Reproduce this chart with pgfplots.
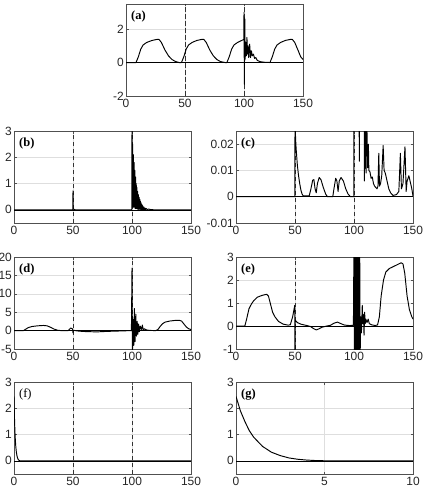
\documentclass[border=0pt]{standalone}
\usepackage{fontspec}
\setmainfont{Liberation Sans}
\newfontfamily\serif{Liberation Serif}
\usepackage{pgfplots}
\pgfplotsset{compat=1.18}
\definecolor{gridc}{RGB}{222,222,222}
\definecolor{axc}{RGB}{80,80,80}
\pgfplotsset{mystyle/.style={
  scale only axis, width=177bp, height=92bp, anchor=north west,
  axis line style={axc, line width=0.6bp},
  grid=major, major grid style={gridc, line width=0.5bp},
  tick style={axc, line width=0.5bp}, major tick length=2.5bp,
  tick align=inside,
  xmin=0, xmax=150, xtick={0,50,100,150},
  ticklabel style={font=\fontsize{12}{14}\selectfont, text=black!85},
  yticklabel style={inner xsep=2pt},
  /pgf/number format/assume math mode=true,
  cycle list={{black}},
  no markers,
  every axis plot/.append style={black!90, line width=0.95bp, line join=round, mark=none},
  clip=true,
}}
\newcommand{\dashes}[2]{%
  \addplot[black!80, line width=0.6bp, dash pattern=on 4.5bp off 2.5bp] coordinates {(50,#1) (50,#2)};
  \addplot[black!80, line width=0.6bp, dash pattern=on 4.5bp off 2.5bp] coordinates {(100,#1) (100,#2)};
}
\newcommand{\zeroline}[1]{\addplot[black, line width=0.6bp] coordinates {(0,0) (#1,0)};}
\newcommand{\plabel}[1]{\node[anchor=north west, inner sep=0pt, font=\serif\bfseries\fontsize{12.5}{14}\selectfont] at (rel axis cs:0,1) [xshift=5bp, yshift=-7bp] {#1};}
\newcommand{\plabelr}[1]{\node[anchor=north west, inner sep=0pt, font=\serif\fontsize{12.5}{14}\selectfont] at (rel axis cs:0,1) [xshift=5bp, yshift=-7bp] {#1};}
\begin{document}
\begin{tikzpicture}
\path[use as bounding box] (0,0) rectangle (425bp,-498bp);
% (a)
\begin{axis}[mystyle, at={(126bp,-4bp)}, ymin=-2, ymax=3.5, ytick={-2,0,2}]
\dashes{-2}{3.5}
\zeroline{150}
\addplot coordinates {(0,0) (8.5,0) (10.5,0.35) (12.5,0.8) (14.5,1.05) (17.5,1.2) (22,1.32) (26,1.38) (28,1.38) (30,1.2) (33,0.75) (36,0.4) (39,0.18) (42,0.06) (45,0)
(47,0) (49,0.35) (51,0.8) (53,1.05) (56,1.2) (60,1.32) (64,1.38) (66,1.38) (68,1.2) (71,0.75) (74,0.4) (77,0.18) (80,0.06) (84,0)
(85.5,0) (87.5,0.35) (89.5,0.8) (91.5,1.05) (94.5,1.2) (98,1.32) (99.8,1.38) (100,3.0) (100.3,-1.3) (100.7,2.6) (101,0.2) (101.5,1.2) (102,0.4) (102.5,1.5) (103,0.5) (103.5,1.0) (104,0.3) (104.8,1.1) (105.5,0.3) (106.3,0.7) (107,0.4) (108,0.5) (109,0.25) (110,0.3) (111,0.15) (112,0.1) (114,0.05) (117,0.02) (122,0)
(124,0.35) (126,0.8) (128,1.05) (131,1.2) (135,1.32) (139,1.38) (141,1.38) (143,1.2) (146,0.7) (148,0.35) (150,0.18)};
\plabel{(a)}
\end{axis}
% (b)
\begin{axis}[mystyle, at={(14bp,-131bp)}, ymin=-0.5, ymax=3, ytick={0,1,2,3}]
\dashes{-0.5}{3}
\zeroline{150}
\addplot coordinates {(0,0) (49.8,0) (50,0.72) (50.2,0.03) (51,0.02) (52,0) (99.8,0)
(100,3.2) (100.3,0.1) (100.6,2.5) (100.9,0.1) (101.2,2.1) (101.5,0.1) (101.8,1.8) (102.1,0.1) (102.4,1.5) (102.7,0.05) (103,1.25) (103.3,0.05) (103.6,1.0) (103.9,0.05) (104.2,0.85) (104.5,0.03) (104.8,0.7) (105.1,0.03) (105.4,0.58) (105.7,0.02) (106,0.48) (106.3,0.02) (106.6,0.4) (106.9,0.02) (107.2,0.32) (107.5,0.01) (107.8,0.26) (108.1,0.01) (108.4,0.2) (108.7,0.01) (109,0.16) (109.5,0.01) (110,0.11) (110.5,0.01) (111,0.07) (111.5,0.01) (112,0.05) (113,0.01) (114,0.03) (116,0.01) (120,0) (150,0)};
\plabel{(b)}
\end{axis}
% (c)
\begin{axis}[mystyle, at={(236bp,-131bp)}, ymin=-0.01, ymax=0.025, ytick={-0.01,0,0.01,0.02}, scaled y ticks=false, yticklabel style={/pgf/number format/fixed, /pgf/number format/precision=2}]
\dashes{-0.01}{0.025}
\zeroline{150}
\addplot coordinates {(0,0) (49.9,0) (50,0.03) (50.5,0.022) (51,0.018) (52,0.012) (53,0.008) (54,0.005) (55,0.0025) (56,0.001) (57,0.0003) (62,0.0003) (63.5,0.003) (65,0.0063) (66,0.0065) (67,0.003) (68,0.0015) (69,0.005) (70.5,0.0073) (72,0.0065) (74,0.0035) (76,0.001) (77.5,0) (82,0) (83,0.003) (84.5,0.007) (85.5,0.006) (86.5,0.002) (87.5,0.006) (89,0.0073) (91,0.006) (93,0.003) (95,0.001) (97,0) (99.9,0)
(100,0.05) (104.2,0.05) (104.5,0.0135) (105,0.05) (108.5,0.05) (108.8,0.006) (109.4,0.03) (110.2,0.009) (110.8,0.03) (111.6,0.011) (112.2,0.02) (112.6,0.01) (113.5,0.0095) (114.5,0.007) (115.5,0.0075) (116.5,0.005) (117.5,0.004) (118.5,0.0035) (119.5,0.003) (120.3,0.004) (121,0.0165) (121.6,0.004) (122.5,0.005) (123.5,0.008) (124.7,0.0195) (125.5,0.01) (126.5,0.009) (128,0.006) (129.5,0.003) (131,0.0015) (133,0.0005) (136,0.0008) (138,0.002) (139.3,0.0165) (140.2,0.003) (141.5,0.005) (143.2,0.019) (144.2,0.002) (145,0.006) (146.5,0.008) (148,0.005) (149,0.003) (150,0.0003)};
\plabel{(c)}
\end{axis}
% (d)
\begin{axis}[mystyle, at={(14bp,-257bp)}, ymin=-5, ymax=20, ytick={-5,0,5,10,15,20}]
\dashes{-5}{20}
\zeroline{150}
\addplot coordinates {(0,0) (8,0) (10,0.4) (12,0.8) (15,1.1) (20,1.3) (25,1.4) (28,1.3) (31,0.9) (34,0.4) (37,0.1) (40,0) (46,0) (48,0.7) (49.5,0.5) (50,-0.6) (50.3,0.1) (52,0) (55,-0.15) (60,-0.25) (70,-0.35) (80,-0.2) (90,-0.1) (99.5,0)
(100,17) (100.4,-5.5) (101,3) (101.5,-4) (102,6) (102.6,-3) (103.2,4.5) (103.8,-1.5) (104.4,2.5) (105,-1) (105.6,1.8) (106.3,-0.3) (107,1.2) (108,0.3) (108.8,1.5) (109.5,0.2) (110.5,0.5) (112,0.2) (115,0.05) (120,0)
(122,0.3) (124,1.2) (126,1.9) (128,2.3) (132,2.6) (136,2.75) (140,2.8) (142,2.6) (144,1.8) (146,1.0) (148,0.5) (150,0.3)};
\plabel{(d)}
\end{axis}
% (e)
\begin{axis}[mystyle, at={(236bp,-257bp)}, ymin=-1, ymax=3, ytick={-1,0,1,2,3}]
\dashes{-1}{3}
\zeroline{150}
\addplot coordinates {(0,0) (7.5,0) (9,0.3) (11,0.75) (13,0.95) (15,1.1) (18,1.25) (22,1.33) (26,1.38) (27.5,1.3) (29,1.0) (31,0.6) (33,0.4) (36,0.2) (40,0.08) (44,0.04) (46,0.05) (48,0.4) (49.8,0.9) (50,-1.5) (50.2,0.25) (52,0.15) (55,0.08) (60,0.02) (63,-0.02) (66,-0.12) (68,-0.17) (70,-0.13) (73,-0.05) (77,0) (80,0.03) (83,0.12) (86,0.17) (89,0.1) (92,0.04) (96,0.02) (99.5,0.03)
(100,4) (100.4,-2) (100.8,4) (101.2,-2) (101.6,4) (102,-2) (102.4,4) (102.8,-2) (103.2,4) (103.6,-2) (104,4) (104.4,-2) (104.8,4) (105.2,-1.5) (105.6,0.4) (106.3,-0.3) (107,0.9) (107.5,0.1) (108,0.5) (108.5,-0.4) (109,0.6) (109.5,0.1) (110,0.3) (111,0.15) (112,0.3) (113,0.1) (115,0.05) (118,0.02) (120,0.05)
(121.5,0.4) (123,1.3) (125,2.0) (127,2.35) (130,2.5) (134,2.6) (138,2.7) (140,2.75) (141.5,2.7) (143,2.3) (145,1.3) (147,0.7) (149,0.4) (150,0.3)};
\plabel{(e)}
\end{axis}
% (f)
\begin{axis}[mystyle, at={(14bp,-382bp)}, ymin=-0.5, ymax=3, ytick={0,1,2,3}]
\dashes{-0.5}{3}
\zeroline{150}
\addplot coordinates {(0,2.45) (0.25,1.9) (0.5,1.5) (0.75,1.15) (1,0.9) (1.5,0.55) (2,0.33) (2.5,0.2) (3,0.11) (3.5,0.06) (4,0.03) (4.5,0.012) (5,0.004) (6,0) (10,0) (150,0)};
\plabelr{(f)}
\end{axis}
% (g)
\begin{axis}[mystyle, at={(236bp,-382bp)}, xmin=0, xmax=10, xtick={0,5,10}, ymin=-0.5, ymax=3, ytick={0,1,2,3}]
\zeroline{10}
\addplot coordinates {(0,2.45) (0.25,1.9) (0.5,1.5) (0.75,1.15) (1,0.9) (1.5,0.55) (2,0.33) (2.5,0.2) (3,0.11) (3.5,0.06) (4,0.03) (4.5,0.012) (5,0.004) (6,0) (10,0)};
\plabel{(g)}
\end{axis}
\end{tikzpicture}
\end{document}
